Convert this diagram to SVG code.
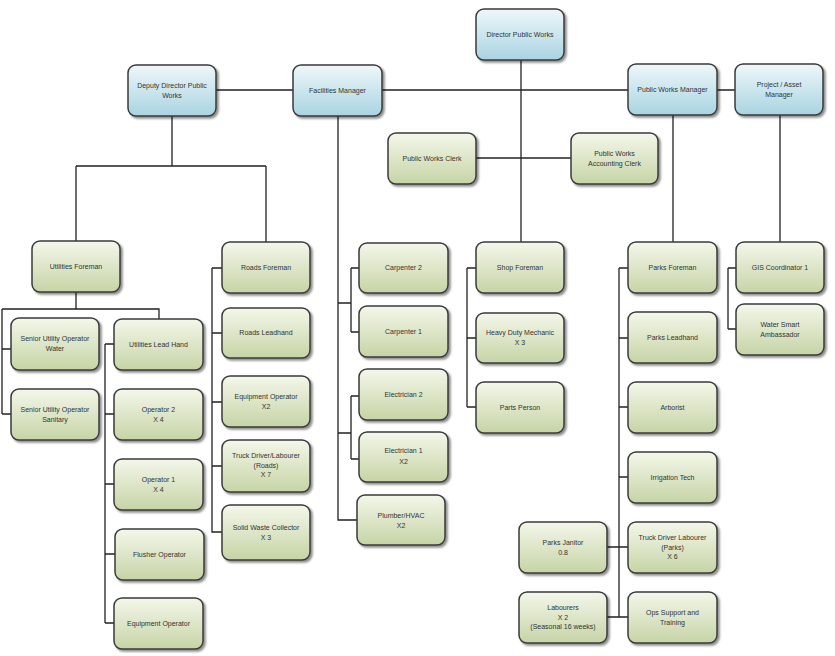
<svg xmlns="http://www.w3.org/2000/svg" width="835" height="656" viewBox="0 0 835 656">
<defs>
<linearGradient id="gb" x1="0" y1="0" x2="0" y2="1"><stop offset="0" stop-color="#eef7fa"/><stop offset="1" stop-color="#a9d4e1"/></linearGradient>
<linearGradient id="gg" x1="0" y1="0" x2="0" y2="1"><stop offset="0" stop-color="#f4f7ea"/><stop offset="1" stop-color="#c6d4a6"/></linearGradient>
<filter id="sh" x="-10%" y="-10%" width="125%" height="130%"><feDropShadow dx="2" dy="2" stdDeviation="1.3" flood-color="#000" flood-opacity="0.45"/></filter>
</defs>
<style>
.b{fill:url(#gb);stroke:#3a3a3a;stroke-width:1.5;filter:url(#sh)}
.g{fill:url(#gg);stroke:#3a3a3a;stroke-width:1.5;filter:url(#sh)}
text{font-family:"Liberation Sans",Arial,sans-serif;font-size:7px;fill:#333;text-anchor:middle}
.c{fill:none;stroke:#222;stroke-width:1.3}
</style>
<rect width="835" height="656" fill="#fff"/>
<g id="connectors" class="c">
<path d="M216,90H293M382,90H628M717,90H735"/>
<path d="M521,60V242"/>
<path d="M476,158H571"/>
<path d="M673,115V242M780,115V242"/>
<path d="M172,116V166M76,166H266M76,166V241M266,166V242"/>
<path d="M76,292V309M2,309H159V319M2,309V414M2,349H11M2,414H11"/>
<path d="M105,344V623M105,344H114M105,414H114M105,484H114M105,554H115M105,623H114"/>
<path d="M212,268V532H222M212,268H222M212,333H222M212,402H222M212,466H222"/>
<path d="M338,116V520H357M338,303H351M351,268V332M351,268H359M351,332H359M338,433H351M351,396V459M351,396H359M351,459H359"/>
<path d="M467,268V407M467,268H476M467,338H476M467,407H476"/>
<path d="M619,268V617M619,268H628M619,338H628M619,407H628M619,477H628M607,547H628M607,617H628"/>
<path d="M728,268V329M728,268H736M728,329H736"/>
</g>
<g id="n_director"><rect class="b" x="476" y="9" width="88" height="51" rx="8"/><text x="520" y="37">Director Public Works</text></g>
<g id="n_deputy"><rect class="b" x="128" y="65" width="88" height="51" rx="8"/><text x="172" y="88">Deputy Director Public</text><text x="172" y="98">Works</text></g>
<g id="n_facilities"><rect class="b" x="293" y="65" width="89" height="51" rx="8"/><text x="337.5" y="93">Facilities Manager</text></g>
<g id="n_pwm"><rect class="b" x="628" y="64" width="89" height="51" rx="8"/><text x="672.5" y="92">Public Works Manager</text></g>
<g id="n_project"><rect class="b" x="735" y="64" width="88" height="51" rx="8"/><text x="779" y="87">Project / Asset</text><text x="779" y="97">Manager</text></g>
<g id="n_pwclerk"><rect class="g" x="388" y="133" width="88" height="51" rx="8"/><text x="432" y="161">Public Works Clerk</text></g>
<g id="n_acctclerk"><rect class="g" x="571" y="133" width="87" height="51" rx="8"/><text x="614.5" y="156">Public Works</text><text x="614.5" y="166">Accounting Clerk</text></g>
<g id="n_utilfore"><rect class="g" x="32" y="241" width="88" height="51" rx="8"/><text x="76" y="269">Utilities Foreman</text></g>
<g id="n_suow"><rect class="g" x="11" y="318" width="88" height="52" rx="8"/><text x="55" y="341">Senior Utility Operator</text><text x="55" y="351">Water</text></g>
<g id="n_suos"><rect class="g" x="11" y="389" width="88" height="51" rx="8"/><text x="55" y="412">Senior Utility Operator</text><text x="55" y="422">Sanitary</text></g>
<g id="n_ulh"><rect class="g" x="114" y="319" width="89" height="51" rx="8"/><text x="158.5" y="347">Utilities Lead Hand</text></g>
<g id="n_op2"><rect class="g" x="114" y="389" width="89" height="51" rx="8"/><text x="158.5" y="412">Operator 2</text><text x="158.5" y="422">X 4</text></g>
<g id="n_op1"><rect class="g" x="114" y="459" width="89" height="51" rx="8"/><text x="158.5" y="482">Operator 1</text><text x="158.5" y="492">X 4</text></g>
<g id="n_flush"><rect class="g" x="115" y="529" width="89" height="51" rx="8"/><text x="159.5" y="557">Flusher Operator</text></g>
<g id="n_equipop"><rect class="g" x="114" y="598" width="89" height="51" rx="8"/><text x="158.5" y="626">Equipment Operator</text></g>
<g id="n_roadsfore"><rect class="g" x="222" y="242" width="88" height="51" rx="8"/><text x="266" y="270">Roads Foreman</text></g>
<g id="n_roadslead"><rect class="g" x="222" y="308" width="88" height="50" rx="8"/><text x="266" y="335">Roads Leadhand</text></g>
<g id="n_equipx2"><rect class="g" x="222" y="376" width="88" height="51" rx="8"/><text x="266" y="399">Equipment Operator</text><text x="266" y="409">X2</text></g>
<g id="n_truckroads"><rect class="g" x="222" y="440" width="88" height="52" rx="8"/><text x="266" y="458">Truck Driver/Labourer</text><text x="266" y="467.5">(Roads)</text><text x="266" y="477">X 7</text></g>
<g id="n_solid"><rect class="g" x="222" y="505" width="88" height="55" rx="8"/><text x="266" y="530">Solid Waste Collector</text><text x="266" y="540">X 3</text></g>
<g id="n_carp2"><rect class="g" x="359" y="243" width="89" height="50" rx="8"/><text x="403.5" y="270">Carpenter 2</text></g>
<g id="n_carp1"><rect class="g" x="359" y="306" width="89" height="51" rx="8"/><text x="403.5" y="334">Carpenter 1</text></g>
<g id="n_elec2"><rect class="g" x="359" y="369" width="89" height="51" rx="8"/><text x="403.5" y="397">Electrician 2</text></g>
<g id="n_elec1"><rect class="g" x="359" y="432" width="89" height="50" rx="8"/><text x="403.5" y="453">Electrician 1</text><text x="403.5" y="464">X2</text></g>
<g id="n_plumb"><rect class="g" x="357" y="495" width="88" height="50" rx="8"/><text x="401" y="518">Plumber/HVAC</text><text x="401" y="528">X2</text></g>
<g id="n_shop"><rect class="g" x="476" y="242" width="88" height="51" rx="8"/><text x="520" y="270">Shop Foreman</text></g>
<g id="n_hdm"><rect class="g" x="476" y="313" width="88" height="50" rx="8"/><text x="520" y="335">Heavy Duty Mechanic</text><text x="520" y="345">X 3</text></g>
<g id="n_parts"><rect class="g" x="476" y="382" width="88" height="51" rx="8"/><text x="520" y="410">Parts Person</text></g>
<g id="n_parksfore"><rect class="g" x="628" y="242" width="89" height="51" rx="8"/><text x="672.5" y="270">Parks Foreman</text></g>
<g id="n_parkslead"><rect class="g" x="628" y="312" width="89" height="51" rx="8"/><text x="672.5" y="340">Parks Leadhand</text></g>
<g id="n_arbor"><rect class="g" x="628" y="382" width="89" height="51" rx="8"/><text x="672.5" y="410">Arborist</text></g>
<g id="n_irrig"><rect class="g" x="628" y="452" width="89" height="51" rx="8"/><text x="672.5" y="480">Irrigation Tech</text></g>
<g id="n_truckparks"><rect class="g" x="628" y="522" width="89" height="51" rx="8"/><text x="672.5" y="540">Truck Driver Labourer</text><text x="672.5" y="549.5">(Parks)</text><text x="672.5" y="559">X 6</text></g>
<g id="n_ops"><rect class="g" x="628" y="592" width="89" height="51" rx="8"/><text x="672.5" y="615">Ops Support and</text><text x="672.5" y="625">Training</text></g>
<g id="n_janitor"><rect class="g" x="519" y="522" width="88" height="51" rx="8"/><text x="563" y="545">Parks Janitor</text><text x="563" y="555">0.8</text></g>
<g id="n_labourers"><rect class="g" x="519" y="592" width="88" height="51" rx="8"/><text x="563" y="610">Labourers</text><text x="563" y="619.5">X 2</text><text x="563" y="629">(Seasonal 16 weeks)</text></g>
<g id="n_gis"><rect class="g" x="736" y="242" width="88" height="51" rx="8"/><text x="780" y="270">GIS Coordinator 1</text></g>
<g id="n_wsa"><rect class="g" x="736" y="304" width="88" height="51" rx="8"/><text x="780" y="327">Water Smart</text><text x="780" y="337">Ambassador</text></g>
</svg>
